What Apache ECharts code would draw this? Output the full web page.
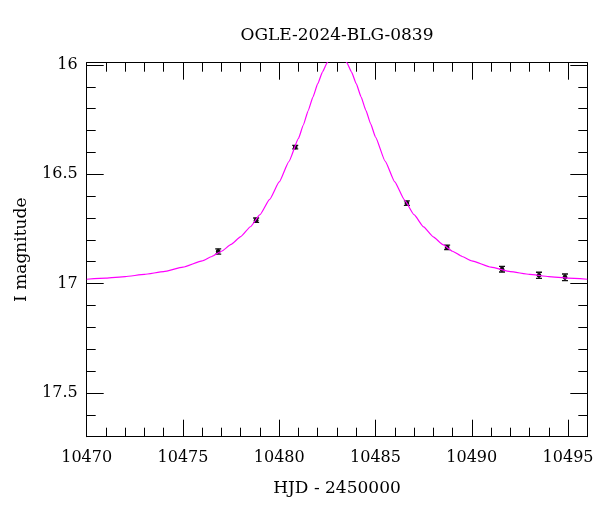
<!DOCTYPE html>
<html><head><meta charset="utf-8">
<script src="https://cdn.jsdelivr.net/npm/echarts@6/dist/echarts.min.js"></script>
<style>html,body{margin:0;padding:0;background:#fff}#c{width:600px;height:512px}</style>
</head><body><div id="c"></div>
<script>
const chartTitle = 'OGLE-2024-BLG-0839';
const xName = 'HJD - 2450000';
const yName = 'I magnitude';

// observed points (HJD-2450000, I mag, error)
const obsHJD = [10476.83, 10478.80, 10480.83, 10486.63, 10488.72, 10491.57, 10493.49, 10494.84];
const obsMag = [16.853, 16.710, 16.376, 16.632, 16.834, 16.934, 16.962, 16.971];
const obsErr = [0.012, 0.010, 0.008, 0.010, 0.010, 0.013, 0.014, 0.015];

// model curve values
const modelHJD = [10470, 10471, 10472, 10473, 10474, 10475, 10476, 10476.5, 10477, 10477.5, 10478, 10478.5, 10479, 10479.5, 10480, 10480.5, 10481, 10481.25, 10481.5, 10481.75, 10482, 10482.25, 10482.5, 10482.75, 10483, 10483.25, 10483.5, 10483.75, 10484, 10484.25, 10484.5, 10484.75, 10485, 10485.5, 10486, 10486.5, 10487, 10487.5, 10488, 10488.5, 10489, 10489.5, 10490, 10491, 10492, 10493, 10494, 10495, 10496];
const modelMag = [16.980, 16.975, 16.968, 16.958, 16.945, 16.925, 16.896, 16.876, 16.852, 16.821, 16.785, 16.740, 16.685, 16.615, 16.535, 16.442, 16.336, 16.275, 16.210, 16.147, 16.086, 16.032, 15.988, 15.960, 15.950, 15.960, 15.988, 16.032, 16.086, 16.146, 16.208, 16.270, 16.330, 16.440, 16.535, 16.617, 16.685, 16.741, 16.786, 16.822, 16.852, 16.876, 16.896, 16.925, 16.945, 16.958, 16.968, 16.975, 16.980];

const xMajorTicks = [10470, 10475, 10480, 10485, 10490, 10495];
const xMinorTicks = [10471, 10472, 10473, 10474, 10476, 10477, 10478, 10479, 10481, 10482, 10483, 10484, 10486, 10487, 10488, 10489, 10491, 10492, 10493, 10494];
const yMajorTicks = [16, 16.5, 17, 17.5];
const yMinorTicks = [16.1, 16.2, 16.3, 16.4, 16.6, 16.7, 16.8, 16.9, 17.1, 17.2, 17.3, 17.4, 17.6];

const FONT = 'DejaVu Serif';
const X_MIN = 10470, X_MAX = 10496, Y_MIN = 15.99, Y_MAX = 17.7;

function xAx(pos, ticks, len, showLabels, showLine, name) {
  const a = {
    type: 'value', position: pos, min: X_MIN, max: X_MAX,
    axisLine: {show: showLine, onZero: false, lineStyle: {color: '#000', width: 1}},
    axisTick: {show: true, inside: true, length: len, customValues: ticks, lineStyle: {color: '#000', width: 1}},
    axisLabel: {show: showLabels, customValues: ticks, margin: 13, color: '#000', fontFamily: FONT, fontSize: 16,
      formatter: v => String(v)},
    splitLine: {show: false}
  };
  if (name) {
    a.name = name; a.nameLocation = 'middle'; a.nameGap = 43;
    a.nameTextStyle = {color: '#000', fontFamily: FONT, fontSize: 17};
  }
  return a;
}
function yAx(pos, ticks, len, showLabels, showLine, name) {
  const a = {
    type: 'value', position: pos, min: Y_MIN, max: Y_MAX, inverse: true,
    axisLine: {show: showLine, onZero: false, lineStyle: {color: '#000', width: 1}},
    axisTick: {show: true, inside: true, length: len, customValues: ticks, lineStyle: {color: '#000', width: 1}},
    axisLabel: {show: showLabels, customValues: ticks, margin: 9, color: '#000', fontFamily: FONT, fontSize: 16,
      formatter: v => String(v)},
    splitLine: {show: false}
  };
  if (name) {
    a.name = name; a.nameLocation = 'middle'; a.nameGap = 57;
    a.nameTextStyle = {color: '#000', fontFamily: FONT, fontSize: 17};
  }
  return a;
}

const chart = echarts.init(document.getElementById('c'), null, {renderer: 'canvas'});
chart.setOption({
  animation: false,
  backgroundColor: '#fff',
  grid: {left: 86.7, right: 12.7, top: 62.7, bottom: 75.3, containLabel: false},
  graphic: [{
    type: 'text', x: 337, y: 36,
    style: {text: chartTitle, fill: '#000', font: '17px "DejaVu Serif"', textAlign: 'center', textVerticalAlign: 'middle'}
  }],
  xAxis: [
    xAx('bottom', xMajorTicks, 17, true, true, xName),
    xAx('bottom', xMinorTicks, 9, false, false),
    xAx('top', xMajorTicks, 17, false, true),
    xAx('top', xMinorTicks, 9, false, false)
  ],
  yAxis: [
    yAx('left', yMajorTicks, 17, true, true, yName),
    yAx('left', yMinorTicks, 9, false, false),
    yAx('right', yMajorTicks, 17, false, true),
    yAx('right', yMinorTicks, 9, false, false)
  ],
  series: [
    {
      type: 'line', xAxisIndex: 0, yAxisIndex: 0,
      data: modelHJD.map((x, i) => [x, modelMag[i]]),
      showSymbol: false, smooth: 0.15, smoothMonotone: 'x', clip: true, silent: true,
      lineStyle: {color: '#ff00ff', width: 1.2}
    },
    {
      type: 'custom', xAxisIndex: 0, yAxisIndex: 0, clip: true,
      data: obsHJD.map((x, i) => [x, obsMag[i], obsErr[i]]),
      renderItem: function (params, api) {
        const x = api.value(0), m = api.value(1), e = api.value(2);
        const c = api.coord([x, m]);
        const top = api.coord([x, m - e]);
        const bot = api.coord([x, m + e]);
        const hw = 3;
        const st = {stroke: '#111', lineWidth: 1.3};
        return {
          type: 'group',
          children: [
            {type: 'line', shape: {x1: c[0], y1: top[1], x2: c[0], y2: bot[1]}, style: st},
            {type: 'line', shape: {x1: c[0] - hw, y1: top[1], x2: c[0] + hw, y2: top[1]}, style: st},
            {type: 'line', shape: {x1: c[0] - hw, y1: bot[1], x2: c[0] + hw, y2: bot[1]}, style: st},
            {type: 'circle', shape: {cx: c[0], cy: c[1], r: 2.4}, style: {fill: '#111'}}
          ]
        };
      }
    }
  ]
});
</script></body></html>
